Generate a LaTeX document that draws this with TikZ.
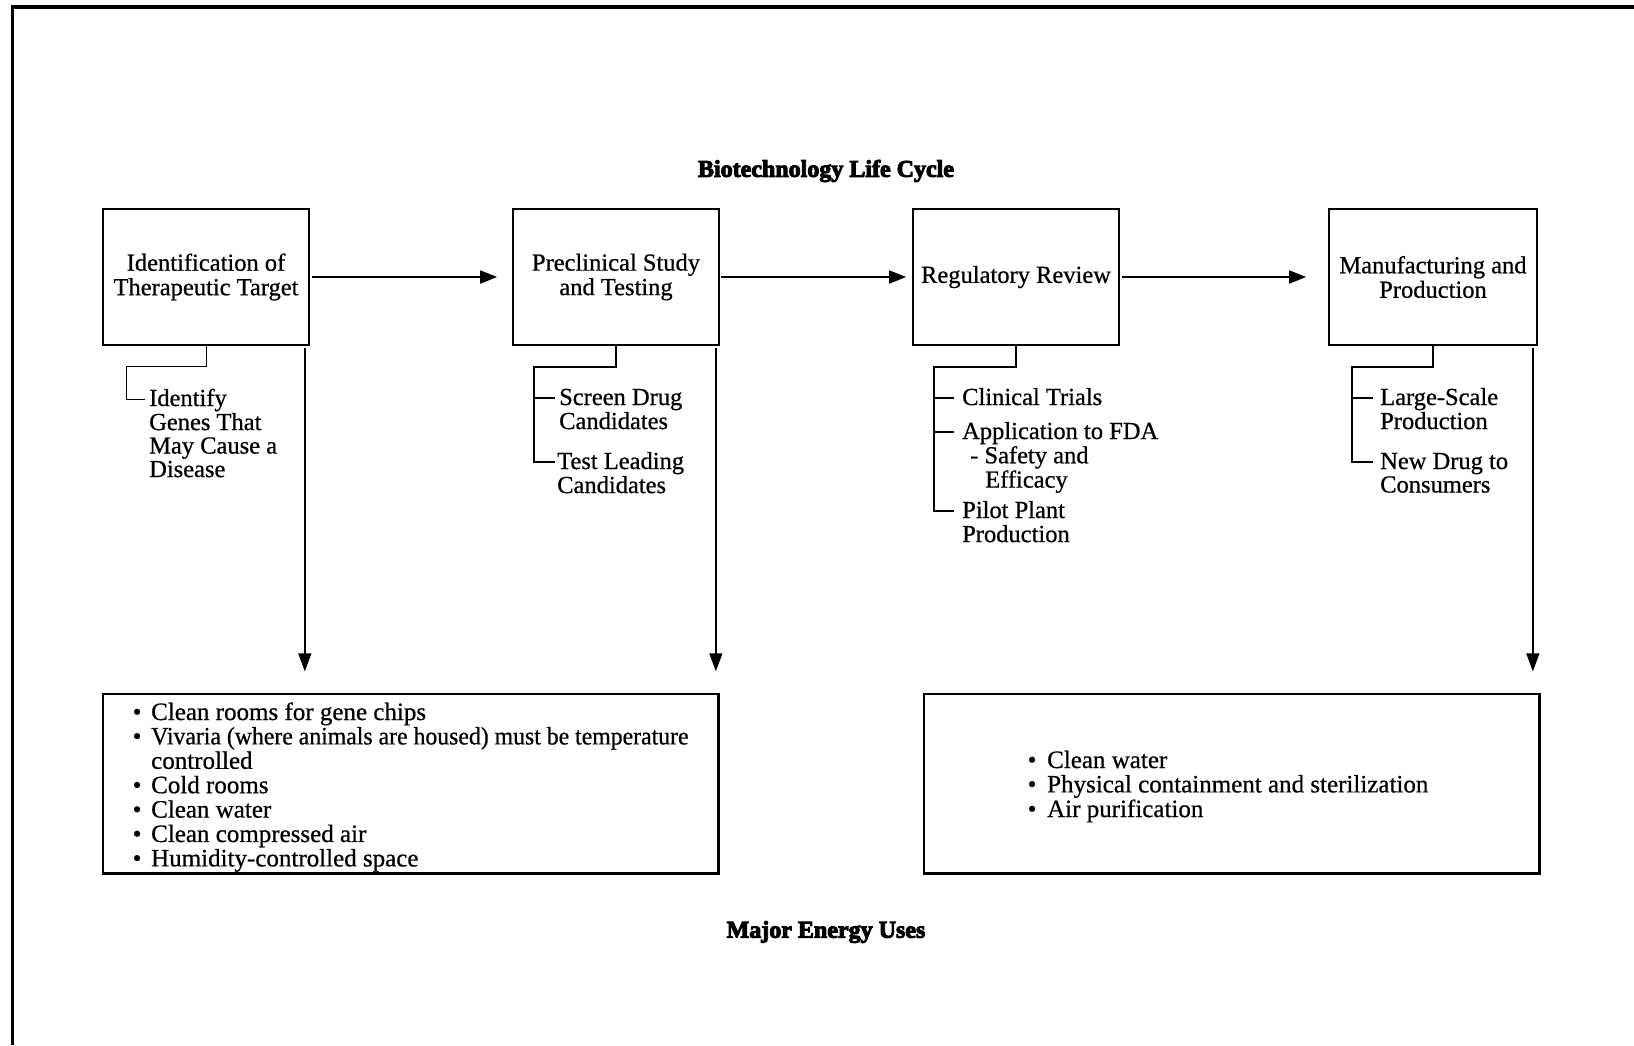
\documentclass[tikz,border=0pt]{standalone}
\usepackage{fontspec}
\setmainfont{Liberation Serif}[FakeBold=0.7]
\newfontfamily\heavyserif{Liberation Serif}[FakeBold=4]
\usetikzlibrary{arrows.meta,calc}

% type sizes (1pt = 1 unit of the drawing)
\newcommand\fStage{\fontsize{24.5}{24.5}\selectfont}
\newcommand\fItem{\fontsize{24.5}{23.5}\selectfont}
\newcommand\fList{\fontsize{25}{23.5}\selectfont}
\newcommand\fHead{\heavyserif\bfseries\fontsize{24}{24}\selectfont}
\newcommand\bulA{\makebox[18.5pt][l]{\textbullet}}
\newcommand\bulB{\makebox[19.5pt][l]{\textbullet}}

\begin{document}
\begin{tikzpicture}[x=1pt,y=-1pt,
  stage/.style={draw, line width=1.7pt, minimum width=206pt, minimum height=136pt,
                align=center, font=\fStage, inner sep=2pt},
  uses/.style={draw, line width=1.3pt, minimum width=615pt, minimum height=179pt},
  edgeshade/.style={line width=1.2pt},
  arr/.style={line width=1.7pt, -{Triangle[length=17pt,width=13pt]}},
  drop/.style={line width=1.3pt, -{Triangle[length=18pt,width=13pt]}},
  branch/.style={line width=1.4pt},
  item/.style={anchor=base west, inner sep=0pt, font=\fItem},
  list/.style={anchor=base west, inner sep=0pt, font=\fList},
  title/.style={font=\fHead, inner sep=0pt}]

\useasboundingbox (0,0) rectangle (1634,1045);

% page frame (top and left rules)
\draw[line width=4pt] (11,7) -- (1634,7);
\draw[line width=3pt] (12,5) -- (12,1045);

% headings
\node[title] (ttl) at (826,171) {Biotechnology Life Cycle};
\node[title] (usesttl) at (826,932) {Major Energy Uses};

% life-cycle stages
\node[stage] (b1) at (206,277) {Identification of\\Therapeutic Target};
\node[stage] (b2) at (616,277) {Preclinical Study\\and Testing};
\node[stage] (b3) at (1016,277) {Regulatory Review};
\node[stage, minimum width=208pt] (b4) at (1433,277) {Manufacturing and\\Production};

\draw[arr, shorten <=2pt, shorten >=15pt] (b1.east) -- (b2.west);
\draw[arr, shorten <=1pt, shorten >=6pt] (b2.east) -- (b3.west);
\draw[arr, shorten <=2pt, shorten >=22pt] (b3.east) -- (b4.west);

% energy-use panels
\node[uses] (e1) at (410.5,783.5) {};
\node[uses] (e2) at (1231.5,783.5) {};
\draw[edgeshade] ([xshift=1pt]e1.north east) -- ([xshift=1pt,yshift=-1pt]e1.south east) -- ([yshift=-1pt]e1.south west);
\draw[edgeshade] ([xshift=1pt]e2.north east) -- ([xshift=1pt,yshift=-1pt]e2.south east) -- ([yshift=-1pt]e2.south west);

\draw[drop, shorten <=2pt, shorten >=22pt] ([xshift=-5pt]b1.south east) -- ([xshift=-5pt]b1.south east |- e1.north);
\draw[drop, shorten <=2pt, shorten >=22pt] ([xshift=-4pt]b2.south east) -- ([xshift=-4pt]b2.south east |- e1.north);
\draw[drop, shorten <=2pt, shorten >=22pt] ([xshift=-5pt]b4.south east) -- ([xshift=-5pt]b4.south east |- e2.north);

% stage activities
\node[item] (t11) at (149,406) {\begin{tabular}[t]{@{}l@{}}Identify\\Genes That\\May Cause a\\Disease\end{tabular}};

\node[item] (t21) at (559,405) {\begin{tabular}[t]{@{}l@{}}Screen Drug\\Candidates\end{tabular}};
\node[item] (t22) at (557,469) {\begin{tabular}[t]{@{}l@{}}Test Leading\\Candidates\end{tabular}};

\node[item] (t31) at (962,405) {Clinical Trials};
\node[item] (t32) at (962,439) {\begin{tabular}[t]{@{}l@{}}Application to FDA\\\hspace*{8pt}- Safety and\\\hspace*{23pt}Efficacy\end{tabular}};
\node[item] (t33) at (962,518) {\begin{tabular}[t]{@{}l@{}}Pilot Plant\\Production\end{tabular}};

\node[item] (t41) at (1380,405) {\begin{tabular}[t]{@{}l@{}}Large-Scale\\Production\end{tabular}};
\node[item] (t42) at (1380,469) {\begin{tabular}[t]{@{}l@{}}New Drug to\\Consumers\end{tabular}};

% tick points beside the activity texts
\coordinate (k11) at ([xshift=-4pt,yshift=7pt]t11.base west);
\coordinate (k21) at ([xshift=-4pt,yshift=7pt]t21.base west);
\coordinate (k22) at ([xshift=-2pt,yshift=7pt]t22.base west);
\coordinate (k31) at ([xshift=-8pt,yshift=7pt]t31.base west);
\coordinate (k32) at ([xshift=-8pt,yshift=7pt]t32.base west);
\coordinate (k33) at ([xshift=-8pt,yshift=7pt]t33.base west);
\coordinate (k41) at ([xshift=-7pt,yshift=7pt]t41.base west);
\coordinate (k42) at ([xshift=-7pt,yshift=7pt]t42.base west);

% brackets from each stage to its activities
\draw[branch, line width=1pt] (b1.south) -- ++(0,21) -| ([xshift=-19pt]k11) -- (k11);

\draw[branch] (b2.south) -- ++(0,21) -| ([xshift=-21pt]k22) -- (k22);
\draw[branch] ([xshift=-21pt]k22 |- k21) -- (k21);

\draw[branch] (b3.south) -- ++(0,21) -| ([xshift=-20pt]k33) -- (k33);
\draw[branch] ([xshift=-20pt]k33 |- k31) -- (k31);
\draw[branch] ([xshift=-20pt]k33 |- k32) -- (k32);

\draw[branch] (b4.south) -- ++(0,21) -| ([xshift=-21pt]k42) -- (k42);
\draw[branch] ([xshift=-21pt]k42 |- k41) -- (k41);

% energy uses
\node[list] (l1) at (132.5,720) {\begin{tabular}[t]{@{}l@{}l@{}}
\bulA & Clean rooms for gene chips\\
\bulA & \scalebox{0.95}[1]{Vivaria (where animals are housed) must be temperature}\\
      & controlled\\
\bulA & Cold rooms\\
\bulA & Clean water\\
\bulA & Clean compressed air\\
\bulA & Humidity-controlled space
\end{tabular}};

\node[list] (l2) at (1027.5,768) {\begin{tabular}[t]{@{}l@{}l@{}}
\bulB & Clean water\\
\bulB & Physical containment and sterilization\\
\bulB & Air purification
\end{tabular}};

\end{tikzpicture}
\end{document}
